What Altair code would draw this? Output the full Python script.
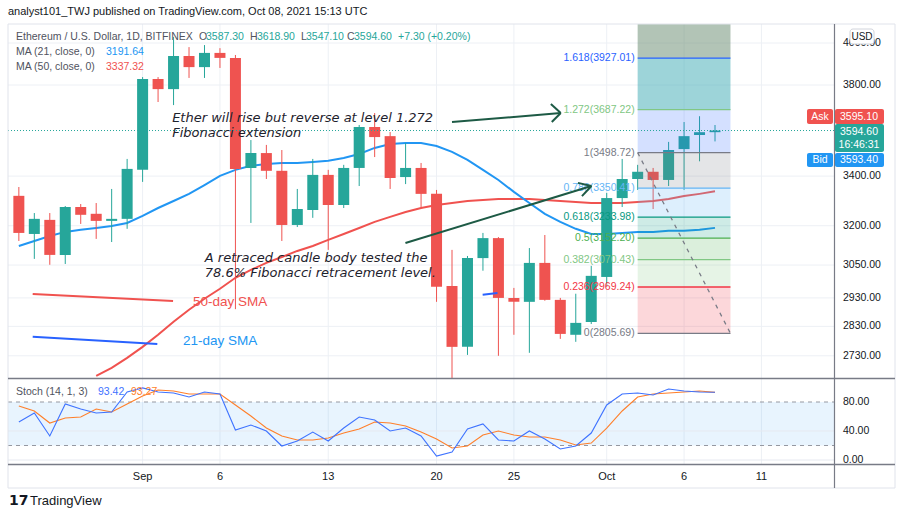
import altair as alt
import pandas as pd

# ---------------- data ----------------
day_idx = list(range(46))  # 0 = Aug 24 2021 ... 45 = Oct 8 2021
opens = [3319, 3168, 3223, 3088, 3274, 3247, 3219, 3227, 3426, 3828,
         3781, 3937, 3884, 3952, 3928, 3434, 3497, 3422, 3203, 3262,
         3405, 3282, 3434, 3610, 3570, 3396, 3434, 3327, 2973, 2760,
         3076, 3152, 2930, 2916, 3058, 2923, 2801, 2845, 3006, 3310,
         3388, 3418, 3384, 3514, 3575, 3587.30]
highs = [3355, 3250, 3250, 3278, 3286, 3290, 3347, 3472, 3837, 3837,
         4030, 3980, 3990, 3975, 3942, 3553, 3532, 3510, 3347, 3472,
         3426, 3447, 3619, 3672, 3588, 3540, 3455, 3343, 3107, 3084,
         3172, 3156, 2966, 3114, 3164, 2930, 2945, 3047, 3331, 3472,
         3447, 3434, 3545, 3632, 3658, 3618.90]
lows = [3141, 3073, 3051, 3054, 3207, 3149, 3137, 3188, 3376, 3722,
        3708, 3833, 3833, 3880, 2890, 3211, 3388, 3141, 3195, 3231,
        3107, 3270, 3359, 3480, 3347, 3367, 3274, 2916, 2657, 2733,
        3029, 2730, 2801, 2740, 2920, 2787, 2777, 2838, 2970, 3274,
        3343, 3266, 3359, 3343, 3462, 3547.10]
closes = [3172, 3227, 3088, 3274, 3243, 3219, 3227, 3430, 3828, 3781,
          3937, 3884, 3952, 3928, 3430, 3497, 3422, 3203, 3266, 3405,
          3282, 3434, 3610, 3566, 3392, 3434, 3327, 2970, 2760, 3076,
          3152, 2930, 2916, 3058, 2923, 2804, 2842, 3010, 3310, 3388,
          3418, 3384, 3510, 3570, 3587.30, 3594.60]

ma21 = [3122, 3141, 3160, 3176, 3184, 3191, 3199, 3211, 3239, 3270,
        3298, 3327, 3363, 3401, 3426, 3443, 3451, 3455, 3455, 3459,
        3464, 3476, 3493, 3519, 3536, 3540, 3540, 3527, 3502, 3468,
        3426, 3384, 3335, 3290, 3247, 3215, 3188, 3168, 3168, 3172,
        3176, 3176, 3180, 3180, 3184, 3191.64]
ma50_idx = list(range(5, 46))
ma50 = [2664, 2690, 2723, 2760, 2801, 2846, 2888, 2927, 2963, 3003,
        3032, 3058, 3080, 3103, 3122, 3145, 3168, 3191, 3215, 3235,
        3254, 3270, 3282, 3290, 3298, 3302, 3306, 3306, 3306, 3302,
        3298, 3294, 3290, 3290, 3290, 3294, 3298, 3306, 3318, 3327, 3337.32]

stoch_k = [52.4, 64.8, 33.1, 77.2, 70.3, 64.8, 66.2, 93.8, 99.5, 93.8,
           92.4, 86.9, 93.8, 91.0, 41.4, 48.3, 40.0, 19.3, 26.2, 38.6,
           26.2, 44.1, 59.3, 55.2, 40.0, 44.1, 33.1, 5.5, 11.0, 42.8,
           49.7, 27.6, 26.2, 40.0, 29.0, 15.2, 19.3, 37.2, 75.9, 91.0,
           92.4, 89.7, 97.9, 95.2, 93.8, 93.42]
stoch_d = [74.5, 67.6, 51.0, 57.9, 59.3, 70.3, 66.2, 77.2, 88.3, 96.6,
           95.2, 91.0, 91.0, 91.0, 75.9, 60.7, 44.1, 33.1, 27.6, 27.6,
           30.3, 37.2, 42.8, 52.4, 51.0, 46.9, 38.6, 29.0, 16.6, 19.3,
           34.5, 40.0, 34.5, 31.7, 31.7, 27.6, 20.7, 23.4, 44.1, 67.6,
           86.9, 91.0, 92.4, 93.8, 95.2, 93.27]

time_tick_idx = [8, 13, 20, 27, 32, 38, 43, 48]
time_tick_labels = ["Sep", "6", "13", "20", "25", "Oct", "6", "11"]
price_ticks = [4000, 3800, 3400, 3200, 3050, 2930, 2830, 2730]
stoch_ticks = [80, 40, 0]

fib_ratio = ["0", "0.236", "0.382", "0.5", "0.618", "0.786", "1", "1.272", "1.618"]
fib_price = [2805.69, 2969.24, 3070.43, 3152.20, 3233.98, 3350.41, 3498.72, 3687.22, 3927.01]
fib_color = ["#787b86", "#f23645", "#81c784", "#4caf50", "#089981",
             "#64b5f6", "#787b86", "#81c784", "#2962ff"]
fib_upper = 4620.0  # 2.618 extension, above the visible pane
fib_start, fib_end = 40, 46
zone_fill = ["#f23645", "#81c784", "#4caf50", "#089981", "#64b5f6",
             "#787b86", "#2962ff", "#3caab4", "#65896d"]
zone_opacity = [0.2, 0.2, 0.2, 0.2, 0.22, 0.2, 0.2, 0.5, 0.5]

last_price = 3594.60

# annotation drawings (day index, price)
arrow_x = [28.0, 35.03, 35.03, 24.99, 37.01, 37.01]
arrow_y = [3632, 3672, 3672, 3133, 3359, 3359]
arrow_x2 = [35.03, 34.39, 34.45, 37.01, 36.14, 36.40]
arrow_y2 = [3672, 3713, 3632, 3359, 3372, 3318]

# ---------------- scales ----------------
FONT = "Liberation Sans"
NOTE_FONT = "DejaVu Sans"
XS = alt.Scale(domain=[-0.895, 56.635], nice=False, zero=False)
YP = alt.Scale(type="log", domain=[2657, 4094], range=[378, 24], clamp=True, nice=False)
YS = alt.Scale(domain=[0, 100], range=[460, 387.5], nice=False, zero=False)

GREEN, RED = "#26a69a", "#ef5350"

def X(f):
    return alt.X(f, scale=XS, axis=None)

def YPr(f):
    return alt.Y(f, scale=YP, axis=None)

def YSt(f):
    return alt.Y(f, scale=YS, axis=None)

one = pd.DataFrame({"a": [0]})

def txt(s, x, y, color, size=10.5, align="left", weight="normal", style="normal", font=FONT):
    return alt.Chart(pd.DataFrame({"t": [s]})).mark_text(
        align=align, baseline="middle", fontSize=size, color=color,
        fontWeight=weight, fontStyle=style, font=font
    ).encode(x=alt.value(x), y=alt.value(y), text="t:N")

def box(x1, x2, y1, y2, fill, stroke=None, radius=0, opacity=1.0):
    kw = dict(fill=fill, cornerRadius=radius, fillOpacity=opacity)
    if stroke:
        kw["stroke"] = stroke
        kw["strokeWidth"] = 1
    return alt.Chart(one).mark_rect(**kw).encode(
        x=alt.value(x1), x2=alt.value(x2), y=alt.value(y1), y2=alt.value(y2))

def hline(x1, x2, y, color, width=1.0):
    return alt.Chart(one).mark_rule(color=color, strokeWidth=width).encode(
        x=alt.value(x1), x2=alt.value(x2), y=alt.value(y))

def vline(x, y1, y2, color, width=1.0):
    return alt.Chart(one).mark_rule(color=color, strokeWidth=width).encode(
        x=alt.value(x), y=alt.value(y1), y2=alt.value(y2))

# ---------------- data frames ----------------
candles = pd.DataFrame({"i": day_idx, "o": opens, "h": highs, "l": lows, "c": closes})
candles["col"] = [GREEN if c >= o else RED for o, c in zip(opens, closes)]
ma21_df = pd.DataFrame({"i": day_idx, "v": ma21})
ma50_df = pd.DataFrame({"i": ma50_idx, "v": ma50})
stoch_df = pd.DataFrame({"i": day_idx, "k": stoch_k, "d": stoch_d})
tt_df = pd.DataFrame({"i": time_tick_idx, "lab": time_tick_labels})
pt_df = pd.DataFrame({"p": price_ticks, "lab": [f"{p:.2f}" for p in price_ticks]})
st_df = pd.DataFrame({"s": stoch_ticks, "lab": [f"{s:.2f}" for s in stoch_ticks]})

zone_lo = fib_price
zone_hi = fib_price[1:] + [fib_upper]
zones = pd.DataFrame({"x1": [fib_start] * 9, "x2": [fib_end] * 9,
                      "lo": zone_lo, "hi": zone_hi,
                      "col": zone_fill, "op": zone_opacity})
fib_df = pd.DataFrame({"x1": [fib_start] * 9, "x2": [fib_end] * 9, "p": fib_price,
                       "col": fib_color,
                       "lab": [f"{r}({p:.2f})" for r, p in zip(fib_ratio, fib_price)]})
diag_df = pd.DataFrame({"x1": [fib_start], "x2": [fib_end],
                        "y1": [fib_price[6]], "y2": [fib_price[0]]})
arrows = pd.DataFrame({"x1": arrow_x, "y1": arrow_y, "x2": arrow_x2, "y2": arrow_y2})

layers = []

# gridlines
layers.append(alt.Chart(tt_df).mark_rule(color="#edf0f5", strokeWidth=1).encode(
    x=X("i:Q"), y=alt.value(24), y2=alt.value(464)))
layers.append(alt.Chart(pt_df).mark_rule(color="#edf0f5", strokeWidth=1).encode(
    y=YPr("p:Q"), x=alt.value(8), x2=alt.value(834)))

# stochastic pane
band = pd.DataFrame({"lo": [20], "hi": [80]})
layers.append(alt.Chart(band).mark_rect(color="#2196f3", opacity=0.1).encode(
    y=YSt("lo:Q"), y2="hi:Q", x=alt.value(8), x2=alt.value(834)))
layers.append(alt.Chart(pd.DataFrame({"s": [40, 0]})).mark_rule(color="#e6e9f0").encode(
    y=YSt("s:Q"), x=alt.value(8), x2=alt.value(834)))
layers.append(alt.Chart(pd.DataFrame({"s": [20, 80]})).mark_rule(
    color="#9598a1", strokeDash=[4, 4], strokeWidth=1).encode(
    y=YSt("s:Q"), x=alt.value(8), x2=alt.value(834)))
layers.append(alt.Chart(stoch_df).mark_line(color="#ff7f2a", strokeWidth=1.1).encode(
    x=X("i:Q"), y=YSt("d:Q")))
layers.append(alt.Chart(stoch_df).mark_line(color="#3f73ff", strokeWidth=1.1).encode(
    x=X("i:Q"), y=YSt("k:Q")))

# moving averages
layers.append(alt.Chart(ma50_df).mark_line(color="#f0524f", strokeWidth=2).encode(
    x=X("i:Q"), y=YPr("v:Q")))
layers.append(alt.Chart(ma21_df).mark_line(color="#2196f3", strokeWidth=2).encode(
    x=X("i:Q"), y=YPr("v:Q")))

# candles
layers.append(alt.Chart(candles).mark_rule(strokeWidth=1).encode(
    x=X("i:Q"), y=YPr("l:Q"), y2="h:Q", color=alt.Color("col:N", scale=None)))
layers.append(alt.Chart(candles).mark_bar(size=11).encode(
    x=X("i:Q"), y=YPr("o:Q"), y2="c:Q", color=alt.Color("col:N", scale=None)))

# fibonacci drawing
layers.append(alt.Chart(zones).mark_rect().encode(
    x=X("x1:Q"), x2="x2:Q", y=YPr("lo:Q"), y2="hi:Q",
    color=alt.Color("col:N", scale=None), opacity=alt.Opacity("op:Q", scale=None)))
layers.append(alt.Chart(fib_df).mark_rule(strokeWidth=1.3).encode(
    x=X("x1:Q"), x2="x2:Q", y=YPr("p:Q"), color=alt.Color("col:N", scale=None)))
layers.append(alt.Chart(fib_df).mark_text(align="right", baseline="middle", dx=-3,
                                          fontSize=10.5, font=FONT).encode(
    x=X("x1:Q"), y=YPr("p:Q"), text="lab:N", color=alt.Color("col:N", scale=None)))
layers.append(alt.Chart(diag_df).mark_rule(color="#787b86", strokeDash=[4, 5], strokeWidth=1.3).encode(
    x=X("x1:Q"), x2="x2:Q", y=YPr("y1:Q"), y2="y2:Q"))

# last price dotted line
layers.append(alt.Chart(pd.DataFrame({"p": [last_price]})).mark_rule(
    color="#26a69a", strokeDash=[1, 2], strokeWidth=1).encode(
    y=YPr("p:Q"), x=alt.value(8), x2=alt.value(834)))

# annotations
layers.append(alt.Chart(arrows).mark_rule(color="#1d5a45", strokeWidth=2).encode(
    x=X("x1:Q"), x2="x2:Q", y=YPr("y1:Q"), y2="y2:Q"))
sma_leg = pd.DataFrame({"x1": [0.895, 0.895, 29.98], "x2": [9.97, 8.95, 30.94],
                        "y1": [2944, 2794, 2941], "y2": [2919, 2770, 2948],
                        "col": ["#f0524f", "#2962ff", "#2962ff"]})
layers.append(alt.Chart(sma_leg).mark_rule(strokeWidth=2).encode(
    x=X("x1:Q"), x2="x2:Q", y=YPr("y1:Q"), y2="y2:Q", color=alt.Color("col:N", scale=None)))

notes = pd.DataFrame({
    "x": [9.91, 9.91, 12.02, 12.02],
    "y": [3650, 3584, 3076, 3021],
    "t": ["Ether will rise but reverse at level 1.272", "Fibonacci extension",
          "A retraced candle body tested the", "78.6% Fibonacci retracement level."]})
layers.append(alt.Chart(notes).mark_text(align="left", baseline="middle", fontSize=13,
                                         fontStyle="italic", font=NOTE_FONT, color="#1e222d").encode(
    x=X("x:Q"), y=YPr("y:Q"), text="t:N"))
sma_notes = pd.DataFrame({"x": [11.25, 10.61], "y": [2915, 2780],
                          "t": ["50-day SMA", "21-day SMA"], "col": ["#f0524f", "#2196f3"]})
layers.append(alt.Chart(sma_notes).mark_text(align="left", baseline="middle", fontSize=13.5,
                                             font=FONT).encode(
    x=X("x:Q"), y=YPr("y:Q"), text="t:N", color=alt.Color("col:N", scale=None)))

# frame and separators
layers.append(box(8, 895, 24, 488, "white", stroke="#e0e3eb", opacity=0))
layers.append(hline(8, 895, 378.5, "#787b86", 1.5))
layers.append(hline(8, 895, 464.5, "#787b86", 1.5))
layers.append(vline(834.5, 24, 488, "#787b86", 1.2))

# axis labels
layers.append(alt.Chart(pt_df).mark_text(align="left", baseline="middle", fontSize=10.5,
                                         font=FONT, color="#131722").encode(
    y=YPr("p:Q"), x=alt.value(843), text="lab:N"))
layers.append(alt.Chart(st_df).mark_text(align="left", baseline="middle", fontSize=10.5,
                                         font=FONT, color="#131722").encode(
    y=YSt("s:Q"), x=alt.value(843), text="lab:N"))
layers.append(alt.Chart(tt_df).mark_text(baseline="middle", fontSize=11,
                                         font=FONT, color="#131722").encode(
    x=X("i:Q"), y=alt.value(477), text="lab:N"))

# USD badge
layers.append(box(850, 874, 29, 44, "white", stroke="#d1d4dc", radius=3))
layers.append(txt("USD", 862, 36.5, "#131722", size=10, align="center"))

# price tags
layers.append(box(807, 833, 109, 124, "#f0524f", radius=2))
layers.append(txt("Ask", 820, 116.5, "white", size=10.5, align="center"))
layers.append(box(835, 884, 109, 124, "#f0524f", radius=2))
layers.append(txt("3595.10", 859, 116.5, "white", size=10.5, align="center"))
layers.append(box(835, 884, 124, 152, "#26a69a", radius=2))
layers.append(txt("3594.60", 859, 131.5, "white", size=10.5, align="center"))
layers.append(txt("16:46:31", 859, 145, "white", size=10.5, align="center"))
layers.append(box(807, 833, 153, 167, "#2196f3", radius=2))
layers.append(txt("Bid", 820, 160, "white", size=10.5, align="center"))
layers.append(box(835, 884, 153, 167, "#2196f3", radius=2))
layers.append(txt("3593.40", 859, 160, "white", size=10.5, align="center"))

# header and legends
layers.append(txt("analyst101_TWJ published on TradingView.com, Oct 08, 2021 15:13 UTC",
                  8, 12, "#131722", size=11))
layers.append(txt("Ethereum / U.S. Dollar, 1D, BITFINEX", 16, 37, "#50535e"))
for s, x, c in [("O", 199, "#50535e"), ("3587.30", 206, GREEN), ("H", 250, "#50535e"),
                ("3618.90", 257, GREEN), ("L", 301, "#50535e"), ("3547.10", 306, GREEN),
                ("C", 347, "#50535e"), ("3594.60", 354, GREEN), ("+7.30 (+0.20%)", 398, GREEN)]:
    layers.append(txt(s, x, 37, c))
layers.append(txt("MA (21, close, 0)", 16, 52, "#50535e"))
layers.append(txt("3191.64", 106, 52, "#2196f3"))
layers.append(txt("MA (50, close, 0)", 16, 67, "#50535e"))
layers.append(txt("3337.32", 106, 67, "#f0524f"))
layers.append(txt("Stoch (14, 1, 3)", 16, 392, "#50535e"))
layers.append(txt("93.42", 98, 392, "#3f73ff"))
layers.append(txt("93.27", 131, 392, "#ff7f2a"))

# TradingView logo line
layers.append(txt("17", 9, 501, "#131722", size=14, weight="bold", font="DejaVu Sans"))
layers.append(txt("TradingView", 30, 501, "#131722", size=13))

chart = alt.layer(*layers).resolve_scale(y="independent").properties(
    width=900, height=520,
    autosize=alt.AutoSizeParams(type="none"),
    padding={"left": 0, "top": 0, "right": 0, "bottom": 0},
    background="white",
).configure_view(stroke=None)

chart.save("out.html", embed_options={"renderer": "svg", "actions": False})
